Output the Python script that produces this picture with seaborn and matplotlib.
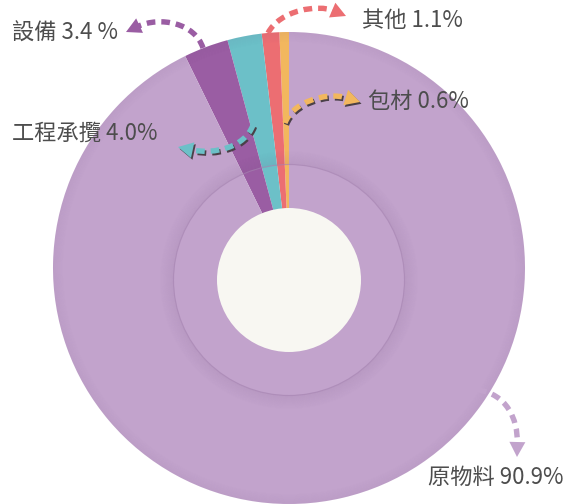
import matplotlib
matplotlib.use("Agg")
import matplotlib.pyplot as plt
from matplotlib.patches import Wedge, Circle, PathPatch, Polygon
from matplotlib.path import Path
import numpy as np
import seaborn as sns

# ---- data (wedge shares, label texts as printed) ----
categories = ["包材", "其他", "工程承攬", "設備", "原物料"]
shares = [0.65, 1.2, 2.35, 3.05, 92.75]
label_texts = ["包材 0.6%", "其他 1.1%", "工程承攬 4.0%", "設備 3.4 %", "原物料 90.9%"]
colors = ["#F2B75E", "#EC6E72", "#6CC0C8", "#9A5DA3", "#C2A3CC"]

sns.set_theme(style="white")
plt.rcParams["font.family"] = ["Noto Sans CJK TC", "DejaVu Sans"]

W, H = 572, 504
fig = plt.figure(figsize=(W / 100, H / 100), dpi=100)
ax = fig.add_axes([0, 0, 1, 1])

cx, cy, R = 289, 236, 236
ax.pie(shares, colors=colors, startangle=90, counterclock=True, radius=R,
       center=(cx, cy), wedgeprops=dict(linewidth=0), frame=False)

# subtle darkening near outer edge
for i in range(10):
    ax.add_patch(Wedge((cx, cy), R - i, 0, 360, width=1.0,
                       facecolor="#6a4a78", alpha=0.06 * (10 - i) / 10, lw=0))

# inner ring shadow
icx, icy = 289, 224
for i in range(14):
    ax.add_patch(Wedge((icx, icy), 116 + i, 0, 360, width=1.0,
                       facecolor="#6a4a78", alpha=0.10 * (14 - i) / 14, lw=0))
ax.add_patch(Circle((icx, icy), 115.5, fill=False, ec="#a886b3", lw=0.8, alpha=0.6))

# white centre
ax.add_patch(Circle((icx, icy), 72, facecolor="#F8F7F2", lw=0, zorder=5))

# ---- labels + dashed curved arrows (cubic curves: start, c1, c2, tip) ----
label_pos = {
    "設備": (12, 471),
    "工程承攬": (12, 371),
    "其他": (362, 484),
    "包材": (368, 403),
    "原物料": (428, 27),
}
arrows = {
    "設備": [(203, 456), (195, 481), (160, 488), (126, 472)],
    "工程承攬": [(253, 379), (245, 357), (215, 349), (178, 357)],
    "其他": [(268, 471), (280, 494), (318, 500), (346, 488)],
    "包材": [(285, 381), (292, 401), (325, 413), (360, 402)],
    "原物料": [(478, 114), (506, 110), (518, 86), (517, 47)],
}
shadowed = {"工程承攬", "包材"}

HL, HW = 15, 8
for cat, txt, col in zip(categories, label_texts, colors):
    x, y = label_pos[cat]
    ax.text(x, y, txt, ha="left", va="center", fontsize=16, color="#4d4d4d",
            zorder=10)
    s, c1, c2, t = [np.array(v, dtype=float) for v in arrows[cat]]
    u = t - c2
    u /= np.hypot(*u)
    p = np.array([-u[1], u[0]])
    base = t - u * HL
    tri = np.array([t, base + p * HW, base - p * HW])
    end = base + u * 2
    layers = [((0, 0), col, 9)]
    if cat in shadowed:
        layers.insert(0, ((1.5, -1.8), "#4a4048", 8))
    for off, c, z in layers:
        o = np.array(off)
        path = Path([s + o, c1 + o, c2 + o, end + o],
                    [Path.MOVETO, Path.CURVE4, Path.CURVE4, Path.CURVE4])
        ax.add_patch(PathPatch(path, fill=False, edgecolor=c, lw=3.9,
                               linestyle=(0, (1.6, 1.1)), capstyle="butt",
                               zorder=z))
        ax.add_patch(Polygon(tri + o, closed=True, facecolor=c, lw=0, zorder=z))

ax.set_xlim(0, W)
ax.set_ylim(0, H)
ax.set_aspect("equal")
ax.axis("off")
fig.savefig("out.png", dpi=100, facecolor="white")
